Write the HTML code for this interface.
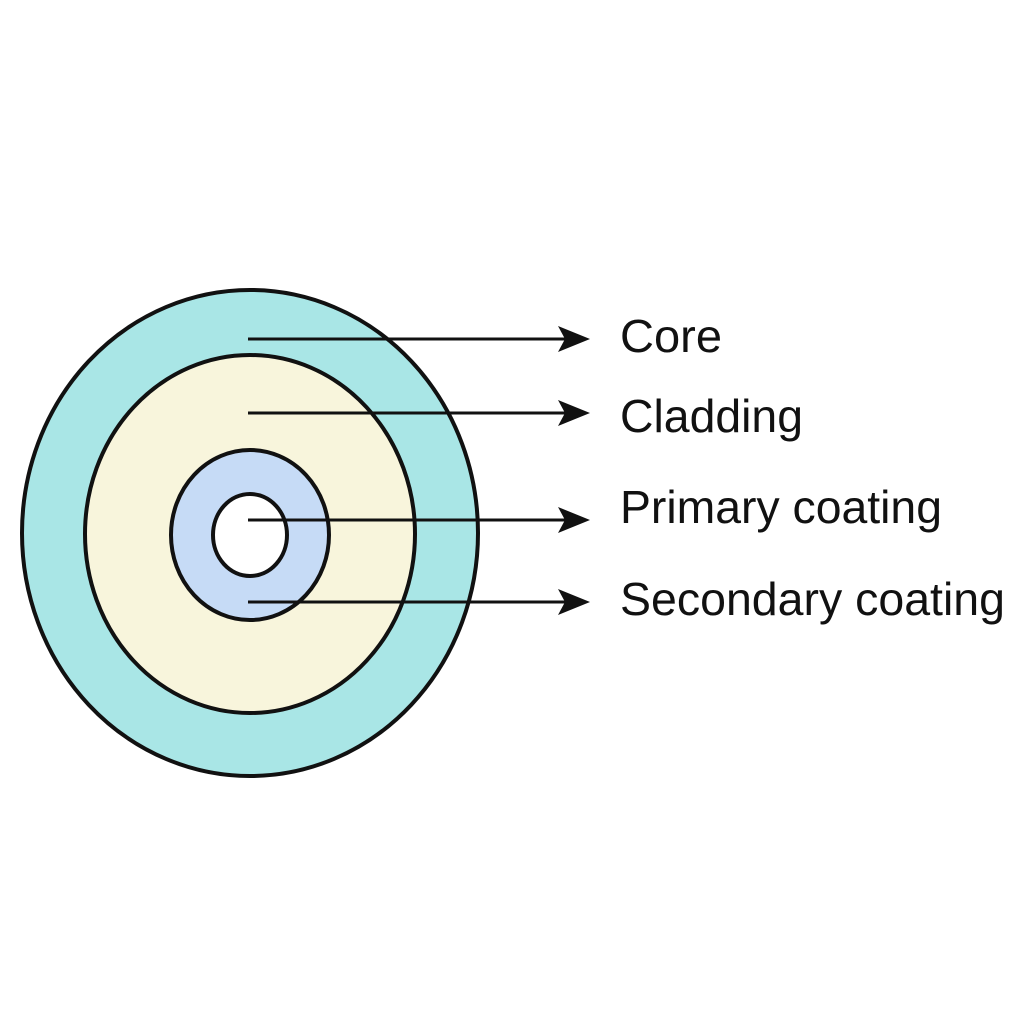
<!DOCTYPE html>
<html><head><style>html,body{margin:0;padding:0;background:#fff;}</style></head>
<body>
<svg width="1024" height="1024" viewBox="0 0 1024 1024" xmlns="http://www.w3.org/2000/svg">
<rect width="1024" height="1024" fill="#fff"/>
<ellipse cx="250" cy="533" rx="228" ry="243" fill="#a9e6e6" stroke="#111" stroke-width="4"/>
<ellipse cx="250" cy="534" rx="165" ry="179" fill="#f8f5dc" stroke="#111" stroke-width="4"/>
<ellipse cx="250" cy="535" rx="79" ry="85" fill="#c6dbf6" stroke="#111" stroke-width="4"/>
<ellipse cx="250" cy="535" rx="37" ry="41" fill="#fff" stroke="#111" stroke-width="4"/>
<g stroke="#111" stroke-width="3">
<line x1="248" y1="339" x2="565" y2="339"/>
<line x1="248" y1="413" x2="565" y2="413"/>
<line x1="248" y1="520" x2="565" y2="520"/>
<line x1="248" y1="602" x2="565" y2="602"/>
</g>
<g fill="#111">
<polygon points="590,339 558,326 565,339 558,352"/>
<polygon points="590,413 558,400 565,413 558,426"/>
<polygon points="590,520 558,507 565,520 558,533"/>
<polygon points="590,602 558,589 565,602 558,615"/>
</g>
<g font-family="Liberation Sans, sans-serif" font-size="46" fill="#111">
<text x="620" y="352" textLength="102" lengthAdjust="spacingAndGlyphs">Core</text>
<text x="620" y="432" textLength="183" lengthAdjust="spacingAndGlyphs">Cladding</text>
<text x="620" y="523" textLength="322" lengthAdjust="spacingAndGlyphs">Primary coating</text>
<text x="620" y="615" textLength="385" lengthAdjust="spacingAndGlyphs">Secondary coating</text>
</g>
</svg>
</body></html>
